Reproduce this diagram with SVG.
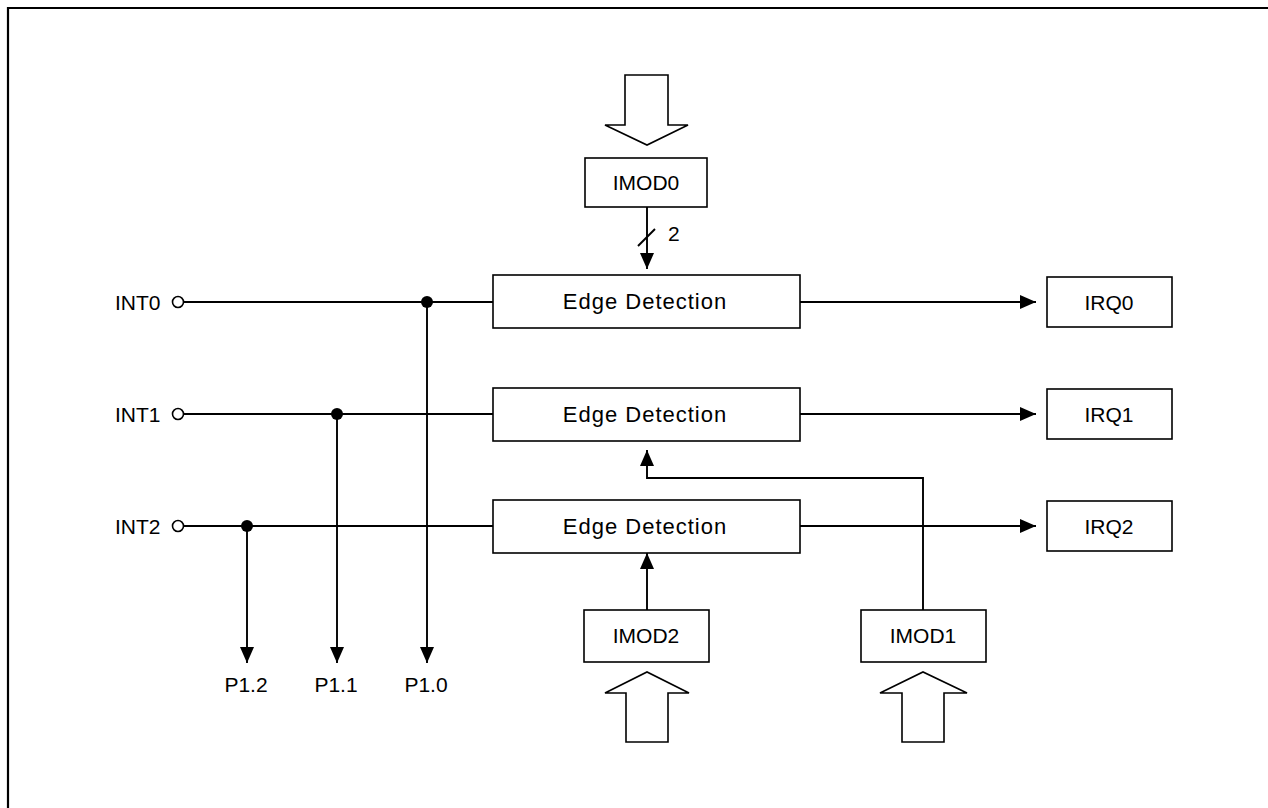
<svg xmlns="http://www.w3.org/2000/svg" width="1268" height="808" viewBox="0 0 1268 808">
  <style>
    .box { fill: #fff; stroke: #000; stroke-width: 1.6; }
    .wire { fill: none; stroke: #000; stroke-width: 1.9; }
    .bus { fill: #fff; stroke: #000; stroke-width: 1.6; stroke-linejoin: miter; }
    .lbl { font-family: "Liberation Sans", Arial, sans-serif; font-size: 21px; fill: #000; }
    .mid { text-anchor: middle; }
    .wide { font-size: 22px; letter-spacing: 1px; }
  </style>
  <defs>
    <marker id="arrow" viewBox="0 0 16 14" refX="16" refY="7" markerWidth="16" markerHeight="14" markerUnits="userSpaceOnUse" orient="auto">
      <path d="M0,0 L16,7 L0,14 Z" fill="#000"/>
    </marker>
  </defs>

  <rect width="1268" height="808" fill="#fff"/>
  <!-- outer frame -->
  <path d="M8,808 V8 H1268" fill="none" stroke="#000" stroke-width="2.2"/>

  <g id="connectors">
    <!-- INT lines -->
    <line class="wire" x1="184" y1="302" x2="493" y2="302"/>
    <line class="wire" x1="184" y1="414" x2="493" y2="414"/>
    <line class="wire" x1="184" y1="526" x2="493" y2="526"/>
    <!-- port taps -->
    <line class="wire" x1="427" y1="302" x2="427" y2="663" marker-end="url(#arrow)"/>
    <line class="wire" x1="337" y1="414" x2="337" y2="663" marker-end="url(#arrow)"/>
    <line class="wire" x1="247" y1="526" x2="247" y2="663" marker-end="url(#arrow)"/>
    <circle cx="427" cy="302" r="6" fill="#000"/>
    <circle cx="337" cy="414" r="6" fill="#000"/>
    <circle cx="247" cy="526" r="6" fill="#000"/>
    <!-- outputs to IRQ -->
    <line class="wire" x1="800" y1="302" x2="1036" y2="302" marker-end="url(#arrow)"/>
    <line class="wire" x1="800" y1="414" x2="1036" y2="414" marker-end="url(#arrow)"/>
    <line class="wire" x1="800" y1="526" x2="1036" y2="526" marker-end="url(#arrow)"/>
    <!-- mode controls -->
    <line class="wire" x1="647" y1="207" x2="647" y2="269" marker-end="url(#arrow)"/>
    <line class="wire" x1="638" y1="246" x2="655" y2="229"/>
    <text class="lbl" x="668" y="241">2</text>
    <line class="wire" x1="647" y1="610" x2="647" y2="553" marker-end="url(#arrow)"/>
    <polyline class="wire" points="923,610 923,478 647,478 647,450" marker-end="url(#arrow)"/>
  </g>

  <!-- data bus arrows -->
  <g id="bus0"><polygon class="bus" points="625,75 668,75 668,125 688,125 647,145 605,125 625,125"/></g>
  <g id="bus2"><polygon class="bus" points="626,742 668,742 668,693 689,693 647,672 605,693 626,693"/></g>
  <g id="bus1"><polygon class="bus" points="902,742 944,742 944,693 967,693 923,672 880,693 902,693"/></g>

  <g id="imod0"><rect class="box" x="585" y="158" width="122" height="49"/><text class="lbl mid" x="646" y="190">IMOD0</text></g>
  <g id="imod2"><rect class="box" x="584" y="610" width="125" height="52"/><text class="lbl mid" x="646" y="643">IMOD2</text></g>
  <g id="imod1"><rect class="box" x="861" y="610" width="125" height="52"/><text class="lbl mid" x="923" y="643">IMOD1</text></g>

  <g id="edge0"><rect class="box" x="493" y="275" width="307" height="53"/><text class="lbl mid wide" x="645" y="309">Edge Detection</text></g>
  <g id="edge1"><rect class="box" x="493" y="388" width="307" height="53"/><text class="lbl mid wide" x="645" y="422">Edge Detection</text></g>
  <g id="edge2"><rect class="box" x="493" y="500" width="307" height="53"/><text class="lbl mid wide" x="645" y="534">Edge Detection</text></g>

  <g id="irq0"><rect class="box" x="1047" y="277" width="125" height="50"/><text class="lbl mid" x="1109" y="310">IRQ0</text></g>
  <g id="irq1"><rect class="box" x="1047" y="389" width="125" height="50"/><text class="lbl mid" x="1109" y="422">IRQ1</text></g>
  <g id="irq2"><rect class="box" x="1047" y="501" width="125" height="50"/><text class="lbl mid" x="1109" y="534">IRQ2</text></g>

  <g id="int0"><text class="lbl" x="115" y="310">INT0</text><circle cx="178" cy="302" r="5.5" fill="#fff" stroke="#000" stroke-width="1.6"/></g>
  <g id="int1"><text class="lbl" x="115" y="422">INT1</text><circle cx="178" cy="414" r="5.5" fill="#fff" stroke="#000" stroke-width="1.6"/></g>
  <g id="int2"><text class="lbl" x="115" y="534">INT2</text><circle cx="178" cy="526" r="5.5" fill="#fff" stroke="#000" stroke-width="1.6"/></g>

  <g id="p12"><text class="lbl mid" x="246" y="692">P1.2</text></g>
  <g id="p11"><text class="lbl mid" x="336" y="692">P1.1</text></g>
  <g id="p10"><text class="lbl mid" x="426" y="692">P1.0</text></g>
</svg>
